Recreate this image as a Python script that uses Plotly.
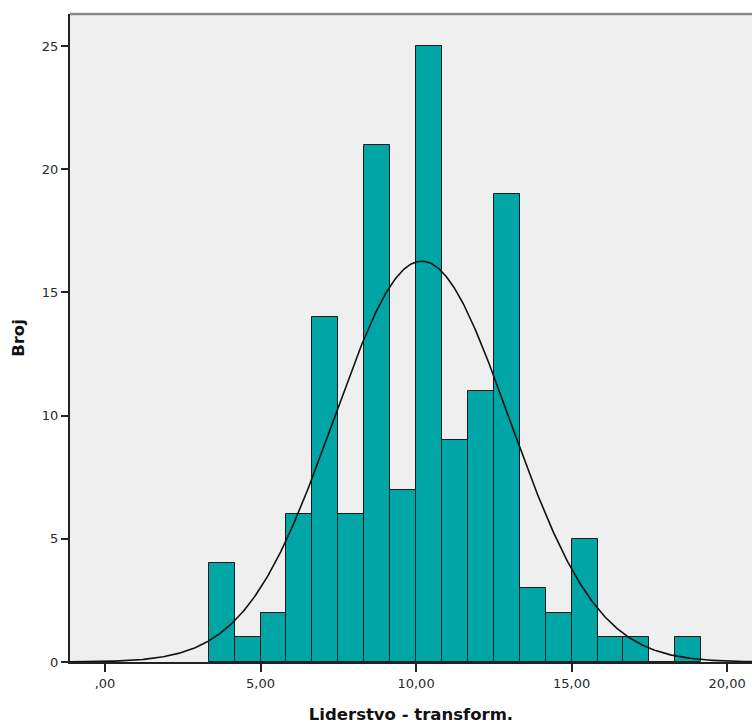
import numpy as np
import plotly.graph_objects as go

# Histogram data (bin edges start, bin width, counts)
bin_start = 10/3
bin_width = 5/6
counts = [4, 1, 2, 6, 14, 6, 21, 7, 25, 9, 11, 19, 3, 2, 5, 1, 1, 0, 1]

# Normal curve parameters
n_total = 138
curve_mean = 10.18
curve_sd = 2.82

x_tick_vals = [0, 5, 10, 15, 20]
x_tick_text = [",00", "5,00", "10,00", "15,00", "20,00"]
y_tick_vals = [0, 5, 10, 15, 20, 25]

centers = [bin_start + bin_width * (i + 0.5) for i in range(len(counts))]

xs = np.linspace(-1.2, 21, 600)
ys = n_total * bin_width / (curve_sd * np.sqrt(2 * np.pi)) * np.exp(-0.5 * ((xs - curve_mean) / curve_sd) ** 2)

fig = go.Figure()
fig.add_trace(go.Bar(
    x=centers, y=counts, width=[bin_width] * len(counts),
    marker=dict(color="#00A6A6", line=dict(color="#1a1a1a", width=1)),
    hoverinfo="skip", showlegend=False,
))
fig.add_trace(go.Scatter(
    x=xs, y=ys, mode="lines", line=dict(color="#111111", width=1.6),
    hoverinfo="skip", showlegend=False,
))

font_family = "DejaVu Sans, Verdana, sans-serif"
fig.update_layout(
    width=752, height=725,
    margin=dict(l=70, r=0, t=14, b=63),
    paper_bgcolor="white", plot_bgcolor="#EFEFEF",
    bargap=0,
    font=dict(family=font_family, size=13, color="#2a2a2a"),
    xaxis=dict(
        range=[-1.125, 20.8], tickvals=x_tick_vals, ticktext=x_tick_text,
        ticks="outside", ticklen=8, tickwidth=1.5, tickcolor="#222222",
        showline=True, linecolor="#222222", linewidth=2,
        showgrid=False, zeroline=False, automargin=False,
        title=dict(text="<b>Liderstvo - transform.</b>", font=dict(size=16.5, color="#111111"), standoff=19),
    ),
    yaxis=dict(
        range=[0, 26.3], tickvals=y_tick_vals,
        ticks="outside", ticklen=7, tickwidth=1.5, tickcolor="#222222",
        showline=True, linecolor="#222222", linewidth=2,
        showgrid=False, zeroline=False, automargin=False,
        title=dict(text="<b>Broj</b>", font=dict(size=16.5, color="#111111"), standoff=13),
    ),
    shapes=[dict(type="line", xref="paper", yref="paper", x0=0, x1=1, y0=1, y1=1,
                 line=dict(color="#888888", width=2.5))],
)

fig.write_html(
    "out.html",
    config={"displayModeBar": False},
    post_script="document.body.style.margin='0';document.body.style.overflow='hidden';",
)
